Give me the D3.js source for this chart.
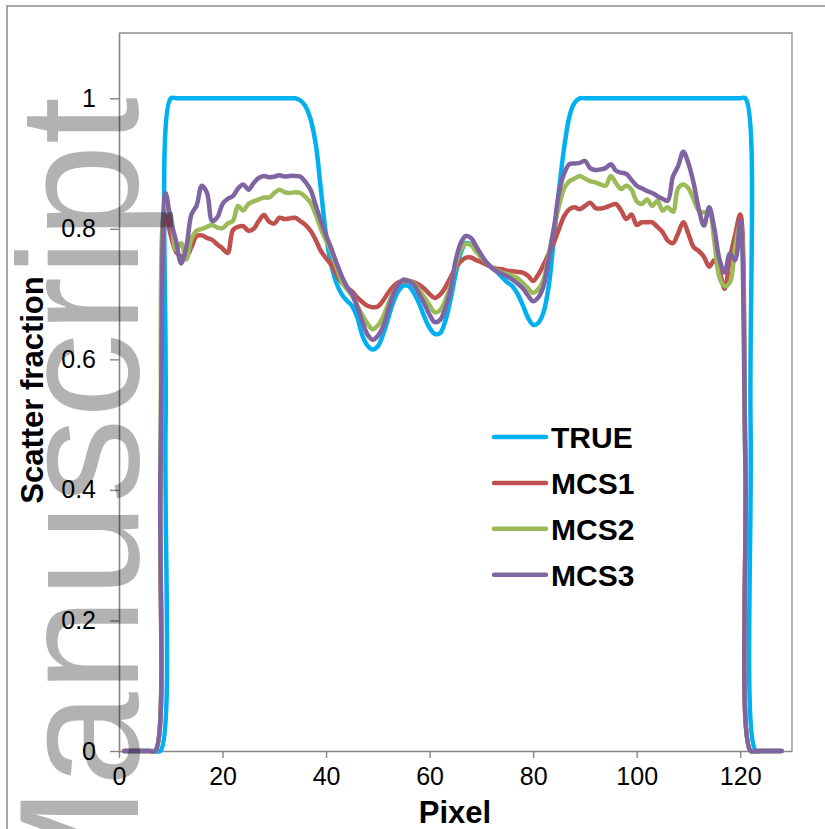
<!DOCTYPE html>
<html>
<head>
<meta charset="utf-8">
<script src="https://cdn.jsdelivr.net/npm/d3@7"></script>
<style>
  html, body { margin: 0; padding: 0; background: #fff; }
  svg { display: block; font-family: "Liberation Sans", Arial, sans-serif; }
</style>
</head>
<body>
<svg id="chart" width="825" height="829"></svg>
<script>
// Detector pixel index (x categories)
const pixels = d3.range(1, 129);

// Scatter fraction profiles, one value per pixel
const trueProfile = [
  0,0,0,0,0,0,0,0,0.5,1,
  1,1,1,1,1,1,1,1,1,1,
  1,1,1,1,1,1,1,1,1,1,
  1,1,1,1,0.997,0.988,0.968,0.93,0.86,0.79,
  0.745,0.717,0.70,0.69,0.682,0.665,0.637,0.621,0.615,0.62,
  0.638,0.663,0.688,0.705,0.713,0.712,0.701,0.685,0.665,0.648,
  0.639,0.64,0.658,0.69,0.73,0.763,0.778,0.776,0.766,0.756,
  0.748,0.741,0.734,0.726,0.718,0.712,0.70,0.683,0.664,0.653,
  0.656,0.672,0.712,0.785,0.86,0.925,0.972,0.993,1,1,
  1,1,1,1,1,1,1,1,1,1,
  1,1,1,1,1,1,1,1,1,1,
  1,1,1,1,1,1,1,1,1,1,
  1,0.5,0,0,0,0,0,0
];

const mcs1 = [
  0,0,0,0,0,0,0,0.41,0.82,0.79,
  0.765,0.758,0.757,0.772,0.789,0.79,0.786,0.783,0.776,0.77,
  0.763,0.798,0.803,0.804,0.797,0.80,0.812,0.821,0.811,0.808,
  0.817,0.815,0.816,0.817,0.812,0.806,0.797,0.783,0.766,0.755,
  0.745,0.73,0.718,0.71,0.704,0.695,0.688,0.682,0.68,0.681,
  0.69,0.702,0.712,0.718,0.72,0.72,0.718,0.714,0.708,0.70,
  0.694,0.699,0.71,0.725,0.74,0.75,0.756,0.756,0.752,0.749,
  0.745,0.741,0.739,0.738,0.736,0.735,0.734,0.733,0.728,0.72,
  0.73,0.745,0.762,0.779,0.80,0.82,0.83,0.833,0.83,0.835,
  0.84,0.832,0.831,0.833,0.836,0.838,0.828,0.815,0.822,0.806,
  0.81,0.81,0.81,0.803,0.795,0.782,0.778,0.793,0.81,0.792,
  0.772,0.766,0.757,0.742,0.752,0.735,0.708,0.755,0.79,0.822,
  0.45,0,0,0,0,0,0,0
];

const mcs2 = [
  0,0,0,0,0,0,0,0.42,0.835,0.82,
  0.768,0.778,0.753,0.785,0.797,0.80,0.803,0.806,0.802,0.801,
  0.808,0.812,0.835,0.828,0.838,0.842,0.845,0.848,0.848,0.855,
  0.86,0.856,0.855,0.856,0.855,0.849,0.84,0.822,0.80,0.782,
  0.765,0.742,0.72,0.708,0.698,0.683,0.668,0.655,0.646,0.652,
  0.665,0.685,0.702,0.715,0.722,0.72,0.716,0.706,0.695,0.683,
  0.672,0.675,0.69,0.712,0.743,0.768,0.777,0.775,0.765,0.756,
  0.748,0.741,0.736,0.733,0.731,0.728,0.724,0.717,0.709,0.702,
  0.708,0.722,0.76,0.80,0.835,0.862,0.873,0.877,0.881,0.877,
  0.873,0.871,0.868,0.866,0.881,0.87,0.861,0.866,0.86,0.842,
  0.838,0.845,0.835,0.843,0.828,0.833,0.826,0.862,0.868,0.862,
  0.845,0.828,0.825,0.826,0.78,0.725,0.712,0.718,0.77,0.808,
  0.43,0,0,0,0,0,0,0
];

const mcs3 = [
  0,0,0,0,0,0,0,0.43,0.855,0.812,
  0.782,0.747,0.772,0.822,0.836,0.866,0.855,0.812,0.818,0.838,
  0.846,0.85,0.862,0.868,0.86,0.87,0.878,0.881,0.879,0.88,
  0.882,0.88,0.881,0.881,0.88,0.872,0.86,0.836,0.812,0.79,
  0.77,0.748,0.728,0.712,0.70,0.681,0.658,0.638,0.63,0.636,
  0.65,0.675,0.70,0.715,0.722,0.72,0.714,0.70,0.685,0.668,
  0.657,0.66,0.678,0.705,0.75,0.778,0.789,0.786,0.773,0.76,
  0.748,0.74,0.735,0.731,0.727,0.722,0.716,0.709,0.698,0.689,
  0.695,0.712,0.755,0.80,0.856,0.885,0.899,0.90,0.901,0.904,
  0.893,0.89,0.891,0.893,0.899,0.889,0.886,0.884,0.875,0.866,
  0.862,0.858,0.855,0.85,0.846,0.843,0.88,0.896,0.918,0.90,
  0.87,0.83,0.805,0.833,0.80,0.753,0.733,0.762,0.752,0.812,
  0.44,0,0,0,0,0,0,0
];

const seriesNames = ["TRUE", "MCS1", "MCS2", "MCS3"];
const seriesColors = ["#00B0F0", "#C0504D", "#9BBB59", "#8064A2"];
const seriesValues = [trueProfile, mcs1, mcs2, mcs3];

const xTicks = [0, 20, 40, 60, 80, 100, 120];
const yTicks = [0, 0.2, 0.4, 0.6, 0.8, 1];
const xTitle = "Pixel";
const yTitle = "Scatter fraction";
const watermark = "Manuscript";

const svg = d3.select("#chart");

// outer chart frame
svg.append("path")
  .attr("d", "M7,829 V6 H825")
  .attr("fill", "none")
  .attr("stroke", "#8a8a8a")
  .attr("stroke-width", 1.5);

const x = d3.scaleLinear().domain([0, 130]).range([119, 792]);
const y = d3.scaleLinear().domain([0, 1.1]).range([751, 33]);

// plot area border (top and right)
svg.append("path")
  .attr("d", `M${x(0)},${y(1.1)} H${x(130)} V${y(0)}`)
  .attr("fill", "none")
  .attr("stroke", "#8f8f8f")
  .attr("stroke-width", 1.3);

// axes
const xAxis = svg.append("g")
  .attr("transform", `translate(0,${y(0)})`)
  .call(d3.axisBottom(x).tickValues(xTicks).tickSize(7).tickPadding(9).tickSizeOuter(0).tickFormat(d3.format("d")));
const yAxis = svg.append("g")
  .attr("transform", `translate(${x(0)},0)`)
  .call(d3.axisLeft(y).tickValues(yTicks).tickSize(9).tickPadding(14).tickSizeOuter(0).tickFormat(d => d === 0 || d === 1 ? String(d) : d3.format(".1f")(d)));

[xAxis, yAxis].forEach(g => {
  g.select(".domain").attr("stroke", "#868686").attr("stroke-width", 1.6);
  g.selectAll(".tick line").attr("stroke", "#868686").attr("stroke-width", 1.4);
  g.selectAll(".tick text")
    .attr("fill", "#000")
    .style("font-family", "'Liberation Sans', Arial, sans-serif")
    .style("font-size", "25px");
});

// axis titles
svg.append("text")
  .attr("x", 455).attr("y", 823)
  .attr("text-anchor", "middle")
  .style("font-size", "31px").style("font-weight", "bold")
  .text(xTitle);

svg.append("text")
  .attr("transform", "translate(43,390) rotate(-90)")
  .attr("text-anchor", "middle")
  .style("font-size", "31px").style("font-weight", "bold")
  .text(yTitle);

// data lines
const line = d3.line()
  .x((d, i) => x(pixels[i]))
  .y(d => y(d))
  .curve(d3.curveCatmullRom.alpha(0.5));

seriesValues.forEach((vals, k) => {
  svg.append("path")
    .datum(vals)
    .attr("d", line)
    .attr("fill", "none")
    .attr("stroke", seriesColors[k])
    .attr("stroke-width", 4.5)
    .attr("stroke-linejoin", "round")
    .attr("stroke-linecap", "round");
});

// legend
const legend = svg.append("g").attr("transform", "translate(492,437)");
seriesNames.forEach((name, k) => {
  const row = legend.append("g").attr("transform", `translate(0,${k * 45.9})`);
  row.append("line")
    .attr("x1", 2).attr("x2", 54)
    .attr("stroke", seriesColors[k])
    .attr("stroke-width", 4.5)
    .attr("stroke-linecap", "round");
  row.append("text")
    .attr("x", 59).attr("y", 0)
    .attr("dy", "0.36em")
    .style("font-size", "30px").style("font-weight", "bold")
    .text(name);
});

// translucent vertical watermark over the left side
svg.append("text")
  .attr("transform", "translate(138,97) rotate(-90)")
  .attr("text-anchor", "end")
  .attr("fill", "#000")
  .attr("fill-opacity", 0.3)
  .style("font-family", "'Liberation Sans', Arial, sans-serif")
  .style("font-size", "170px")
  .text(watermark);
</script>
</body>
</html>
